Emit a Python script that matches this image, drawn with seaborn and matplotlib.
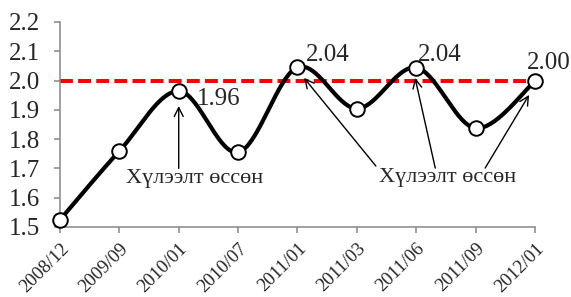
import numpy as np
import matplotlib
matplotlib.use("Agg")
import matplotlib.pyplot as plt
import seaborn as sns

dates = ["2008/12", "2009/09", "2010/01", "2010/07", "2011/01",
         "2011/03", "2011/06", "2011/09", "2012/01"]
values = [1.524, 1.759, 1.964, 1.755, 2.045, 1.904, 2.044, 1.837, 1.998]
target = 2.0
point_labels = {2: "1.96", 4: "2.04", 6: "2.04", 8: "2.00"}
note = "Хүлээлт өссөн"


def smooth(xs, ys, n=40):
    # Excel-style smoothed line (Bezier through the points)
    p = np.column_stack([xs, ys]).astype(float)
    p = np.vstack([p[0], p, p[-1]])
    t = np.linspace(0, 1, n)[:, None]
    out = []
    for i in range(1, len(p) - 2):
        p0, p1, p2, p3 = p[i - 1], p[i], p[i + 1], p[i + 2]
        b1 = p1 + (p2 - p0) / 6
        b2 = p2 - (p3 - p1) / 6
        out.append((1 - t) ** 3 * p1 + 3 * (1 - t) ** 2 * t * b1
                   + 3 * (1 - t) * t ** 2 * b2 + t ** 3 * p2)
    return np.vstack(out)


sns.set_style("white")
plt.rcParams["font.family"] = ["Liberation Serif", "DejaVu Serif"]

fig = plt.figure(figsize=(5.71, 2.97), dpi=100)
ax = fig.add_axes([0.105, 0.236, 0.832, 0.69])

pos = np.arange(len(dates))
curve = smooth(pos, values)

ax.axhline(target, color="#ff0000", lw=2.9, ls=(0, (3.2, 1.3)), zorder=2)
sns.lineplot(x=curve[:, 0], y=curve[:, 1], sort=False, estimator=None,
             color="black", lw=3.0, ax=ax, zorder=3)
sns.scatterplot(x=pos, y=values, s=110, color="white", edgecolor="black",
                linewidth=1.4, ax=ax, zorder=4, clip_on=False)

offsets = {2: (29, -6), 4: (22, 9), 6: (17, 9), 8: (10, 13)}
for i, txt in point_labels.items():
    ax.annotate(txt, (pos[i], values[i]), xytext=offsets[i],
                textcoords="offset points", ha="center", va="center",
                fontsize=18, zorder=5, annotation_clip=False)

arrow = dict(arrowstyle="->", lw=1.0, color="black", shrinkA=0, shrinkB=0,
             mutation_scale=16)
ax.text(2.26, 1.665, note, ha="center", va="center", fontsize=16)
ax.annotate("", xy=(2.0, 1.913), xytext=(2.0, 1.70), arrowprops=arrow)
ax.text(6.53, 1.668, note, ha="center", va="center", fontsize=16)
for (x0, y0), (x1, y1) in [((5.32, 1.708), (4.11, 2.009)),
                           ((6.32, 1.701), (5.98, 2.009)),
                           ((7.16, 1.701), (7.90, 1.951))]:
    ax.annotate("", xy=(x1, y1), xytext=(x0, y0), arrowprops=arrow)

ax.set_xlim(0, len(dates) - 1)
ax.set_ylim(1.5, 2.2)
ax.set_yticks(np.arange(1.5, 2.21, 0.1))
ax.set_yticklabels([f"{v:.1f}" for v in np.arange(1.5, 2.21, 0.1)], fontsize=18)
ax.set_xticks(pos)
ax.set_xticklabels(dates, rotation=45, ha="right", rotation_mode="anchor",
                   fontsize=13.5)
ax.set_xlabel("")
ax.set_ylabel("")

sns.despine(ax=ax)
for s in ["left", "bottom"]:
    ax.spines[s].set_color("#868686")
    ax.spines[s].set_linewidth(1.1)
ax.tick_params(axis="y", length=4.5, width=1.1, color="#868686", pad=10,
               left=True)
ax.tick_params(axis="x", length=4.5, width=1.1, color="#868686", pad=5,
               bottom=True)

fig.savefig("out.png", dpi=100)
